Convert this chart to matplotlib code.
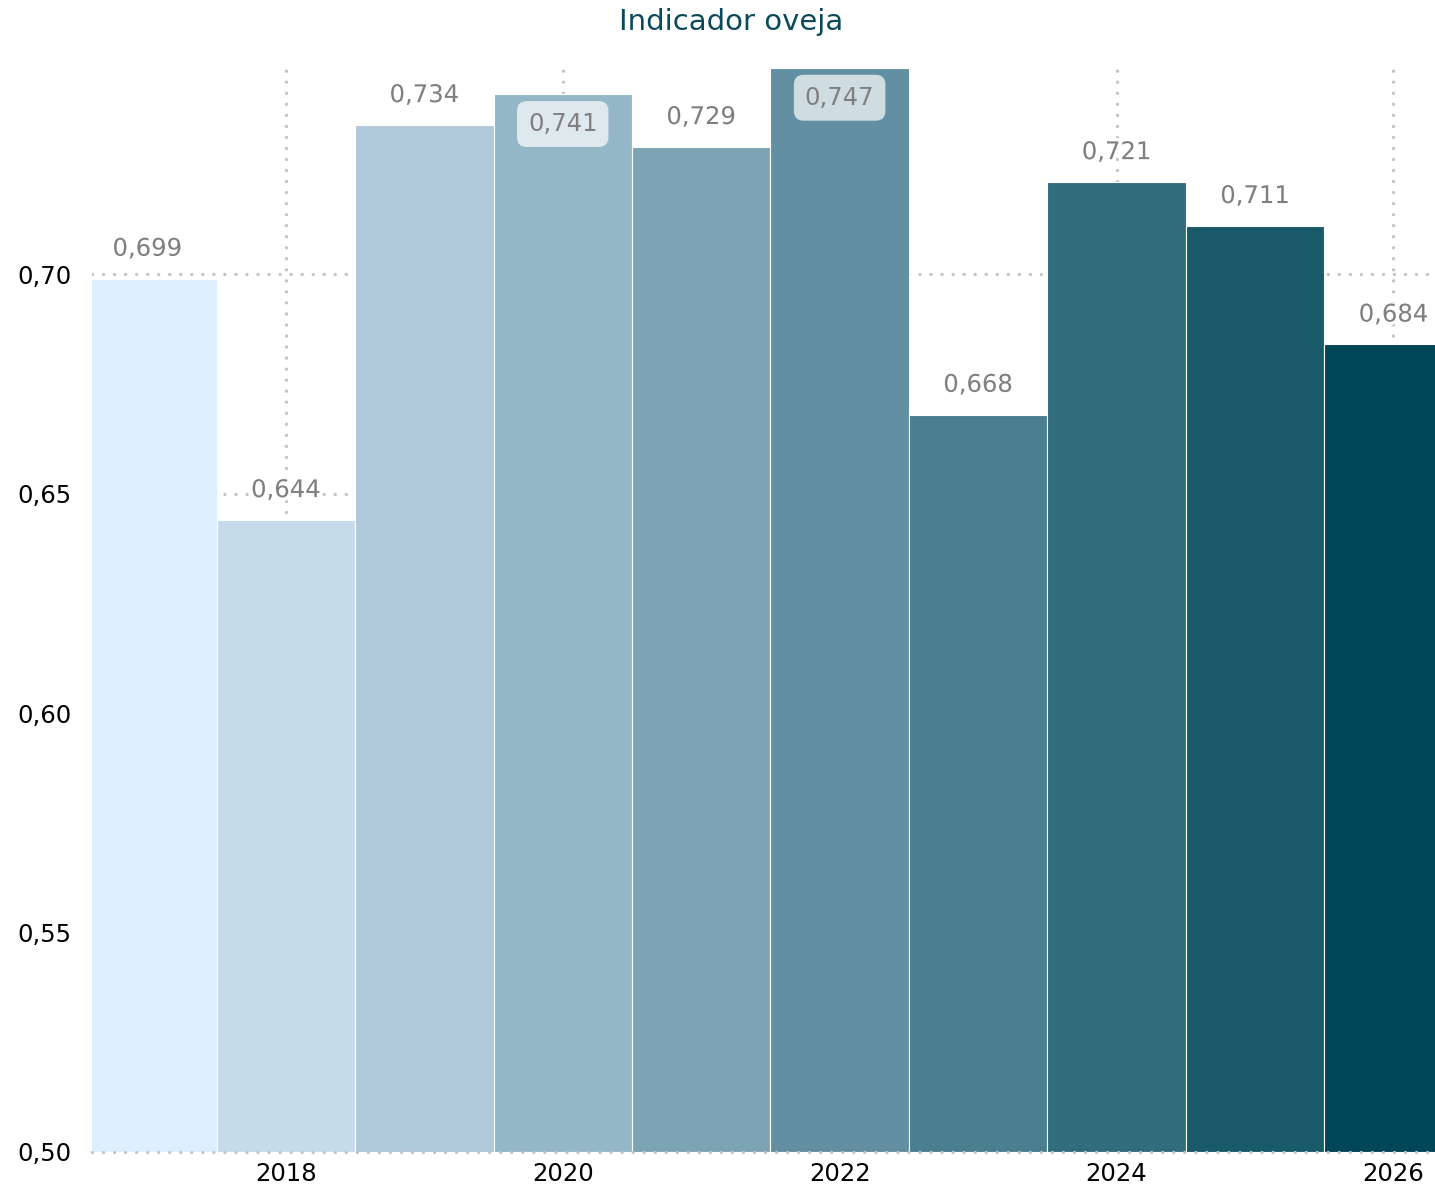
import matplotlib
matplotlib.use("Agg")
import matplotlib.pyplot as plt
import matplotlib.patheffects as pe

years = [2017, 2018, 2019, 2020, 2021, 2022, 2023, 2024, 2025, 2026]
values = [0.699, 0.644, 0.734, 0.741, 0.729, 0.747, 0.668, 0.721, 0.711, 0.684]
colors = ["#DDEEFD", "#C5DBEA", "#AFC9DB", "#94B7C7", "#7DA4B5",
          "#628FA1", "#4A7F90", "#326D7E", "#18596A", "#004558"]
xticks = [2018, 2020, 2022, 2024, 2026]
yticks = [0.50, 0.55, 0.60, 0.65, 0.70]
title = "Indicador oveja"

plt.rcParams['font.family'] = ['DejaVu Sans']

fig = plt.figure(figsize=(14.35, 11.89), dpi=100)
ax = fig.add_axes([92/1435, 37/1189, 1 - 92/1435, (1152-67)/1189])

ax.bar(years, [v - 0.5 for v in values], bottom=0.5, width=1.0, color=colors,
       edgecolor="white", linewidth=0.8, zorder=2)

ax.set_xlim(2016.6, 2026.3)
ax.set_ylim(0.5, 0.7472)

ax.set_xticks(xticks)
ax.set_xticklabels([str(x) for x in xticks])
ax.set_yticks(yticks)
ax.set_yticklabels([f"{y:.2f}".replace(".", ",") for y in yticks])
ax.tick_params(axis="both", length=0, labelsize=17.5, colors="black")
ax.tick_params(axis="y", pad=15)
ax.tick_params(axis="x", pad=7)

for s in ax.spines.values():
    s.set_visible(False)

ax.grid(True, color="#C4C4C4", linestyle=(0, (0.01, 3.3)), linewidth=2.4,
        dash_capstyle="round", zorder=0)
ax.set_axisbelow(True)
ax.axhline(0.5, color="#C4C4C4", linestyle=(0, (0.01, 3.3)), linewidth=2.4,
           dash_capstyle="round", zorder=3, clip_on=False)

top = 0.7472
for x, v in zip(years, values):
    lbl = f"{v:.3f}".replace(".", ",")
    if v + 0.009 > top - 0.002:
        ax.text(x, v - 0.0068, lbl, ha="center", va="center", fontsize=17.5,
                color="#7F7F7F", zorder=4,
                bbox=dict(boxstyle="round,pad=0.45,rounding_size=0.4",
                          fc="white", ec="none", alpha=0.7))
    else:
        t = ax.text(x, v + 0.0068, lbl, ha="center", va="center", fontsize=17.5,
                    color="#7F7F7F", zorder=4)
        t.set_path_effects([pe.withStroke(linewidth=5, foreground="white", alpha=0.8)])

fig.text(731/1435, 1 - 22/1189, title, ha="center", va="center",
         fontsize=21, color="#0B4A5A")

fig.savefig("out.png", dpi=100)
